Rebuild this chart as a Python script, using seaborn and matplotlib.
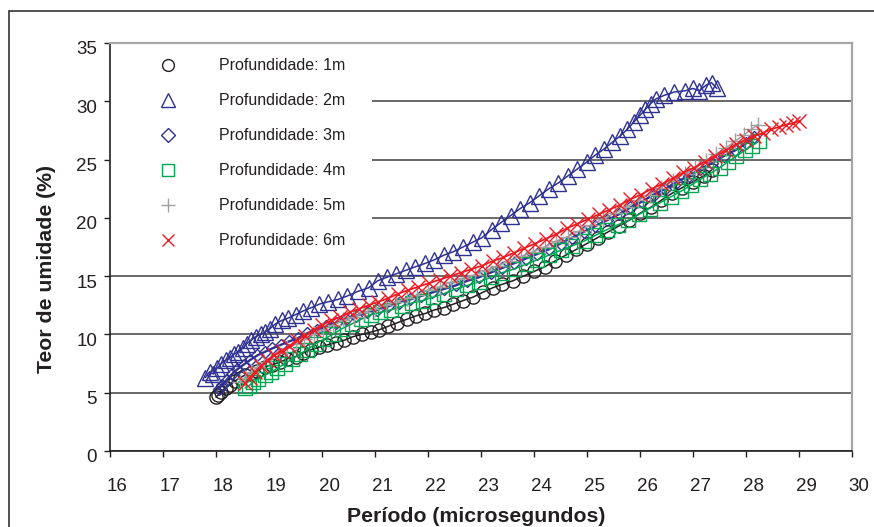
import matplotlib
matplotlib.use('Agg')
import matplotlib.pyplot as plt
import matplotlib.transforms as mtransforms
from matplotlib.lines import Line2D
from matplotlib.patches import Rectangle
import seaborn as sns
import pandas as pd

# ---------------- data ----------------
labels = ["Profundidade: 1m", "Profundidade: 2m", "Profundidade: 3m",
          "Profundidade: 4m", "Profundidade: 5m", "Profundidade: 6m"]

x1 = [18.00, 18.04, 18.10, 18.18, 18.27, 18.36, 18.45, 18.55, 18.66, 18.78,
      18.92, 19.05, 19.20, 19.34, 19.50, 19.64, 19.80, 19.95, 20.10, 20.26,
      20.42, 20.58, 20.75, 20.92, 21.08, 21.25, 21.42, 21.60, 21.78, 21.95,
      22.12, 22.30, 22.48, 22.66, 22.85, 23.03, 23.22, 23.40, 23.60, 23.80,
      24.00, 24.20, 24.40, 24.60, 24.80, 25.00, 25.20, 25.40, 25.60, 25.80,
      26.00, 26.20, 26.40, 26.60, 26.80, 27.00, 27.20, 27.35]
y1 = [4.6, 4.8, 5.1, 5.4, 5.7, 6.0, 6.3, 6.5, 6.7, 6.9,
      7.2, 7.4, 7.6, 7.9, 8.1, 8.4, 8.7, 8.9, 9.1, 9.3,
      9.5, 9.8, 10.0, 10.2, 10.4, 10.7, 11.0, 11.3, 11.6, 11.8,
      12.1, 12.3, 12.6, 12.9, 13.2, 13.6, 14.0, 14.3, 14.6, 15.0,
      15.4, 15.8, 16.3, 16.8, 17.3, 17.8, 18.3, 18.8, 19.3, 19.8,
      20.4, 20.9, 21.5, 22.1, 22.6, 23.1, 23.6, 24.1]

x2 = [17.80, 17.88, 17.95, 18.02, 18.10, 18.18, 18.26, 18.34, 18.42, 18.50,
      18.58, 18.66, 18.75, 18.84, 18.93, 19.02, 19.12, 19.24, 19.36, 19.50,
      19.64, 19.80, 19.95, 20.12, 20.30, 20.48, 20.68, 20.88, 21.05, 21.22,
      21.40, 21.58, 21.76, 21.95, 22.12, 22.30, 22.48, 22.66, 22.84, 23.02,
      23.20, 23.38, 23.56, 23.74, 23.92, 24.10, 24.28, 24.46, 24.64, 24.82,
      25.00, 25.16, 25.32, 25.48, 25.62, 25.76, 25.88, 26.00, 26.10, 26.20,
      26.30, 26.45, 26.65, 26.85, 27.00, 27.12, 27.25, 27.35, 27.45]
y2 = [6.3, 6.8, 6.6, 7.1, 7.5, 7.8, 8.0, 8.3, 8.5, 8.8,
      9.2, 9.5, 9.8, 10.0, 10.2, 10.5, 10.9, 11.2, 11.4, 11.7,
      12.0, 12.3, 12.6, 12.8, 13.0, 13.3, 13.7, 14.0, 14.6, 14.9,
      15.2, 15.5, 15.8, 16.1, 16.4, 16.8, 17.1, 17.5, 17.9, 18.3,
      19.0, 19.6, 20.2, 20.8, 21.3, 21.9, 22.5, 23.0, 23.6, 24.2,
      24.8, 25.4, 25.9, 26.5, 27.0, 27.6, 28.2, 28.8, 29.3, 29.8,
      30.2, 30.5, 30.8, 30.9, 31.1, 30.9, 31.4, 31.6, 31.1]

x3 = [18.05, 18.12, 18.20, 18.30, 18.40, 18.52, 18.64, 18.78, 18.92, 19.06,
      19.22, 19.38, 19.55, 19.72, 19.90, 20.08, 20.26, 20.45, 20.64, 20.84,
      21.04, 21.24, 21.45, 21.66, 21.87, 22.08, 22.30, 22.52, 22.74, 22.96,
      23.18, 23.40, 23.62, 23.84, 24.06, 24.28, 24.50, 24.72, 24.94, 25.16,
      25.38, 25.60, 25.82, 26.04, 26.26, 26.48, 26.70, 26.92, 27.14, 27.36,
      27.58, 27.80, 28.00, 28.15]
y3 = [5.3, 5.7, 6.1, 6.6, 7.0, 7.4, 7.8, 8.2, 8.5, 8.8,
      9.1, 9.4, 9.7, 10.1, 10.4, 10.7, 11.0, 11.3, 11.6, 11.9,
      12.1, 12.4, 12.7, 13.0, 13.3, 13.6, 13.9, 14.2, 14.6, 14.9,
      15.3, 15.7, 16.1, 16.5, 16.9, 17.3, 17.8, 18.3, 18.8, 19.3,
      19.8, 20.3, 20.9, 21.4, 22.0, 22.5, 23.1, 23.6, 24.2, 24.7,
      25.3, 25.8, 26.4, 26.9]

x4 = [18.55, 18.62, 18.70, 18.80, 18.92, 19.04, 19.16, 19.30, 19.44, 19.58,
      19.72, 19.88, 20.04, 20.20, 20.38, 20.56, 20.74, 20.92, 21.10, 21.30,
      21.50, 21.70, 21.90, 22.10, 22.30, 22.52, 22.74, 22.96, 23.18, 23.40,
      23.62, 23.84, 24.06, 24.28, 24.50, 24.72, 24.94, 25.16, 25.38, 25.58,
      25.78, 25.98, 26.18, 26.38, 26.58, 26.78, 26.96, 27.14, 27.32, 27.50,
      27.66, 27.82, 27.98, 28.12, 28.25]
y4 = [5.4, 5.6, 5.9, 6.2, 6.5, 6.8, 7.1, 7.5, 7.9, 8.3,
      8.7, 9.2, 9.6, 10.0, 10.5, 10.9, 11.3, 11.7, 11.9, 12.1,
      12.4, 12.7, 12.9, 13.2, 13.5, 13.9, 14.2, 14.5, 14.9, 15.3,
      15.6, 16.0, 16.4, 16.8, 17.2, 17.6, 18.0, 18.5, 19.0, 19.4,
      19.8, 20.3, 20.8, 21.3, 21.8, 22.3, 22.8, 23.3, 23.8, 24.3,
      24.8, 25.3, 25.8, 26.2, 26.6]

x5 = [18.45, 18.55, 18.66, 18.78, 18.90, 19.04, 19.18, 19.34, 19.50, 19.66,
      19.84, 20.02, 20.20, 20.40, 20.60, 20.80, 21.00, 21.20, 21.40, 21.60,
      21.80, 22.00, 22.22, 22.44, 22.66, 22.88, 23.10, 23.32, 23.54, 23.76,
      23.98, 24.20, 24.42, 24.64, 24.86, 25.08, 25.30, 25.52, 25.74, 25.96,
      26.18, 26.40, 26.62, 26.84, 27.04, 27.24, 27.44, 27.62, 27.80, 27.96,
      28.10, 28.22]
y5 = [5.9, 6.3, 6.8, 7.2, 7.6, 8.0, 8.4, 8.8, 9.2, 9.6,
      10.0, 10.4, 10.8, 11.2, 11.5, 11.9, 12.2, 12.5, 12.8, 13.1,
      13.4, 13.8, 14.1, 14.5, 14.8, 15.1, 15.5, 15.9, 16.3, 16.7,
      17.1, 17.5, 18.0, 18.4, 18.9, 19.4, 19.9, 20.4, 20.9, 21.5,
      22.0, 22.6, 23.2, 23.8, 24.3, 24.9, 25.5, 26.0, 26.6, 27.1,
      27.6, 28.0]

x6 = [18.55, 18.64, 18.74, 18.85, 18.97, 19.10, 19.24, 19.38, 19.53, 19.68,
      19.84, 20.00, 20.17, 20.34, 20.52, 20.70, 20.88, 21.06, 21.25, 21.44,
      21.63, 21.82, 22.02, 22.22, 22.42, 22.62, 22.82, 23.02, 23.22, 23.42,
      23.62, 23.82, 24.02, 24.22, 24.42, 24.62, 24.82, 25.02, 25.22, 25.42,
      25.62, 25.82, 26.02, 26.22, 26.42, 26.62, 26.82, 27.02, 27.22, 27.42,
      27.62, 27.82, 28.00, 28.16, 28.32, 28.48, 28.62, 28.76, 28.88, 29.00]
y6 = [5.8, 6.3, 6.8, 7.3, 7.8, 8.2, 8.6, 9.0, 9.5, 9.9,
      10.4, 10.8, 11.2, 11.5, 11.9, 12.2, 12.5, 12.8, 13.1, 13.5,
      13.8, 14.1, 14.4, 14.7, 15.0, 15.3, 15.6, 15.9, 16.3, 16.6,
      17.0, 17.4, 17.8, 18.2, 18.6, 19.1, 19.5, 19.9, 20.3, 20.7,
      21.1, 21.6, 22.0, 22.5, 22.9, 23.4, 23.9, 24.3, 24.8, 25.3,
      25.8, 26.3, 26.7, 27.0, 27.3, 27.6, 27.8, 28.0, 28.1, 28.3]

x_ticks = list(range(16, 31))
y_ticks = list(range(0, 36, 5))

# ---------------- style ----------------
sns.set_style('white')
plt.rcParams['font.family'] = ['Liberation Sans', 'DejaVu Sans']

colors = ['#231F20', '#2E3192', '#2E3192', '#00A651', '#A0A0A0', '#ED1C24']
markers = ['o', '^', 'D', 's', '+', 'x']
msizes = [9.5, 12, 6, 9.5, 11, 9.5]
lwidths = [1.1, 1.1, 1.7, 1.1, 1.1, 1.3]

fig = plt.figure(figsize=(8.74, 5.27), dpi=100)
ax = fig.add_axes([110 / 874, 76 / 527, 742 / 874, 408 / 527])

series = [(x1, y1), (x2, y2), (x3, y3), (x4, y4), (x5, y5), (x6, y6)]
for (xs, ys), lab, col, mk, ms, lw in zip(series, labels, colors, markers, msizes, lwidths):
    df = pd.DataFrame({'x': xs, 'y': ys})
    sns.lineplot(data=df, x='x', y='y', ax=ax, color=col, marker=mk,
                 markersize=ms, mfc='none', mec=col, mew=1.0, lw=lw,
                 sort=False, estimator=None, zorder=3)

ax.set_xlim(16, 30)
ax.set_ylim(0, 35)
ax.set_xticks(x_ticks)
ax.set_yticks(y_ticks)
ax.yaxis.grid(True, color='#404040', lw=1.1)
ax.xaxis.grid(False)
ax.set_axisbelow(True)

# white area behind legend (gridlines are hidden there)
ax.add_patch(Rectangle((0, (451 - 255) / 408), (372 - 110) / 742, 1.0,
                       transform=ax.transAxes, facecolor='white',
                       edgecolor='none', zorder=1))

for s in ['left', 'bottom']:
    ax.spines[s].set_color('#231F20')
    ax.spines[s].set_linewidth(1.2)
for s in ['top', 'right']:
    ax.spines[s].set_color('#A6A6A6')
    ax.spines[s].set_linewidth(1.6)
    ax.spines[s].set_visible(True)

ax.tick_params(axis='both', direction='out', length=4.3, width=1.0,
               color='#231F20', labelsize=13.5, labelcolor='#231F20',
               bottom=True, left=True)
ax.tick_params(axis='x', pad=15)
ax.tick_params(axis='y', pad=5)

offx = mtransforms.ScaledTranslation(7 / 100, 0, fig.dpi_scale_trans)
offy = mtransforms.ScaledTranslation(0, -5 / 100, fig.dpi_scale_trans)
for t in ax.get_xticklabels():
    t.set_transform(t.get_transform() + offx)
for t in ax.get_yticklabels():
    t.set_transform(t.get_transform() + offy)

ax.set_xlabel('Período (microsegundos)', fontsize=15.3, fontweight='bold',
              color='#231F20')
ax.set_ylabel('Teor de umidade (%)', fontsize=15.3, fontweight='bold',
              color='#231F20')
ax.xaxis.set_label_coords(0.493, -0.137)
ax.yaxis.set_label_coords(-0.073, 0.446)

handles = [Line2D([], [], ls='none', marker=mk, ms=ms if mk != 'D' else 7.5,
                  mfc='none', mec=col, mew=1.0)
           for col, mk, ms in zip(colors, markers, [8.5, 10.5, 6, 8.5, 10, 8.5])]
ax.legend(handles, labels, loc='upper left',
          bbox_to_anchor=(152 / 874, 1 - 58.5 / 527),
          bbox_transform=fig.transFigure, frameon=False, fontsize=11.5,
          handlelength=2, handletextpad=2.19, labelspacing=1.25,
          borderpad=0, borderaxespad=0, labelcolor='#231F20')

# outer frame of the figure
fig.add_artist(Rectangle((9 / 874, -0.1), 1.2, 1 - 11 / 527 + 0.1,
                         transform=fig.transFigure, fill=False,
                         edgecolor='#333333', lw=1.2))

fig.savefig('out.png', dpi=100)
